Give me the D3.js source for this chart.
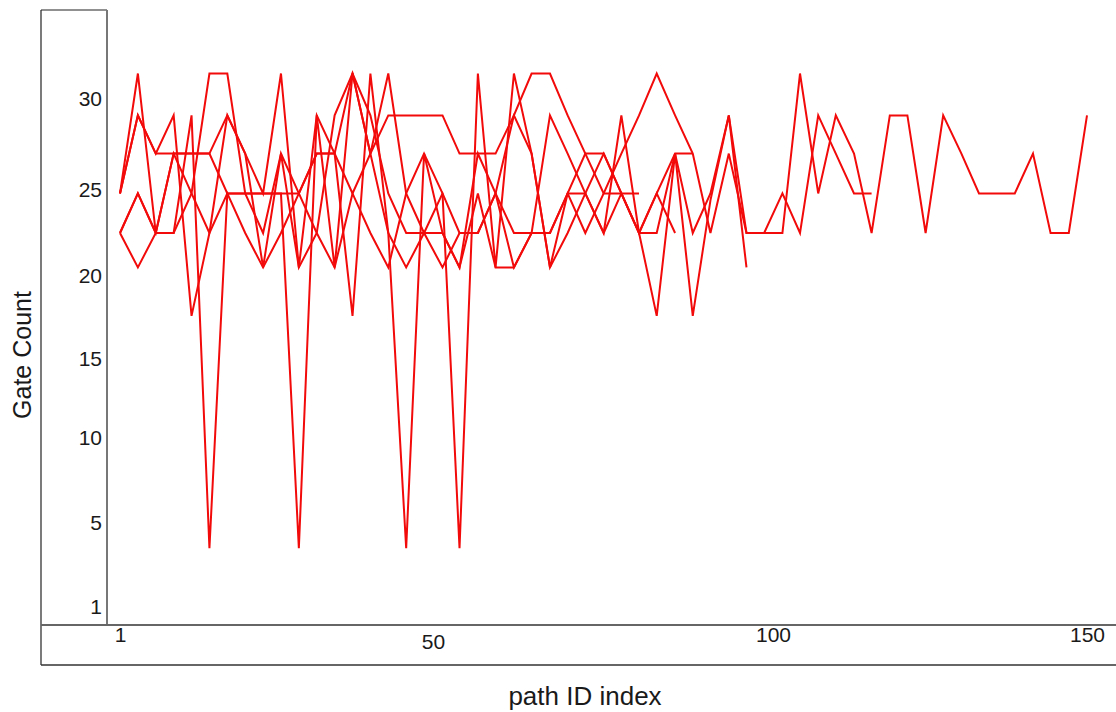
<!DOCTYPE html>
<html>
<head>
<meta charset="utf-8">
<script src="https://cdn.jsdelivr.net/npm/d3@7"></script>
<style>
  html, body { margin: 0; padding: 0; background: #fff; }
  svg { display: block; }
  text { font-family: "Liberation Sans", Arial, sans-serif; fill: #1a1a1a; }
</style>
</head>
<body>
<svg id="chart" width="1116" height="712"></svg>
<script>
// path ID positions shared by every run
const pathIds = [1, 3.8, 6.6, 9.4, 12.2, 15, 17.8, 20.6, 23.4, 26.2, 29, 31.8, 34.6, 37.4, 40.2, 43, 45.8, 48.6,
  51.4, 53.9, 56.6, 59.2, 61.9, 64.5, 67.2, 69.8, 72.4, 75.1, 77.7, 80.3, 82.9, 85.6, 88.2, 90.8, 93.5, 96.1,
  98.7, 101.5, 104.3, 107.2, 110, 112.9, 115.7, 118.6, 121.4, 124.3, 127.1, 130, 132.8, 135.7, 138.5, 141.4,
  144.2, 147.1, 150];

// gate counts per run (missing tail = path not present in that run)
const runA = [24.8, 31.4, 22.5, 22.5, 29.1, 3.8, 24.8, 24.8, 24.8, 24.8, 3.8, 29.1, 20.5, 31.4, 27, 31.4, 24.8, 22.5,
  24.8, 22.5, 22.5, 24.8, 22.5, 22.5, 22.5, 24.8, 22.5, 24.8, 27, 29.1, 31.4, 29.1, 27, 22.5, 27, 22.5, 22.5, 22.5,
  31.4, 24.8, 29.1, 27, 22.5, 29.1, 29.1, 22.5, 29.1, 27, 24.8, 24.8, 24.8, 27, 22.5, 22.5, 29.1];
const runB = [24.8, 29.1, 27, 27, 27, 27, 24.8, 24.8, 24.8, 24.8, 24.8, 27, 27, 17.6, 31.4, 22.5, 3.8, 27,
  22.5, 20.5, 27, 24.8, 20.5, 22.5, 29.1, 27, 24.8, 22.5, 29.1, 22.5, 17.6, 27, 17.6, 24.4, 29.1, 22.5, 22.5, 24.8,
  22.5, 29.1, 27, 24.8, 24.8];
const runC = [22.5, 24.8, 22.5, 22.5, 24.8, 31.4, 31.4, 24.8, 22.5, 27, 20.5, 22.5, 29.1, 31.4, 27, 29.1, 29.1,
  29.1, 29.1, 27, 27, 27, 29.1, 27, 20.5, 22.5, 24.8, 27, 24.8, 22.5, 22.5, 27, 22.5, 24.8, 29.1, 20.5];
const runD = [22.5, 20.5, 22.5, 27, 27, 27, 29.1, 27, 20.5, 27, 24.8, 22.5, 20.5, 24.8, 22.5, 20.5, 24.8, 27,
  24.8, 3.8, 31.4, 20.5, 31.4, 27, 20.5, 24.8, 27, 27, 24.8, 22.5, 24.8, 27, 27];
const runE = [24.8, 29.1, 27, 29.1, 17.6, 22.5, 29.1, 27, 24.8, 31.4, 20.5, 29.1, 27, 31.4, 29.1, 24.8, 22.5,
  22.5, 22.5, 20.5, 24.8, 20.5, 20.5, 22.5, 22.5, 24.8, 24.8, 22.5, 24.8, 22.5, 24.8, 22.5];
const runF = [22.5, 24.8, 22.5, 27, 24.8, 22.5, 24.8, 22.5, 20.5, 22.5, 24.8, 27, 27, 24.8, 27, 22.5, 20.5,
  22.5, 20.5, 22.5, 22.5, 24.8, 29.1, 31.4, 31.4, 29.1, 27, 24.8, 24.8, 24.8];
const runs = [runA, runB, runC, runD, runE, runF];

const yTicks = [1, 5, 10, 15, 20, 25, 30];
const xTicks = [1, 50, 100, 150];

const svg = d3.select("#chart");

// axis scales (the printed ticks are not evenly spaced in value)
const x = d3.scaleLinear().domain([1, 50, 100, 150]).range([120, 433, 773, 1087]);
const y = d3.scaleLinear().domain([1, 5, 10, 15, 20, 25, 30]).range([607, 523, 438, 359, 276, 190, 99]);

// frame: y-axis panel and x-axis panel
const frame = svg.append("g");
frame.append("line").attr("x1", 41).attr("y1", 10).attr("x2", 41).attr("y2", 665)
  .attr("stroke", "#222").attr("stroke-width", 1.2);
frame.append("line").attr("x1", 41).attr("y1", 10).attr("x2", 107).attr("y2", 10)
  .attr("stroke", "#222").attr("stroke-width", 1.2);
frame.append("line").attr("x1", 107).attr("y1", 10).attr("x2", 107).attr("y2", 625)
  .attr("stroke", "#777").attr("stroke-width", 2);
frame.append("line").attr("x1", 41).attr("y1", 625).attr("x2", 1116).attr("y2", 625)
  .attr("stroke", "#666").attr("stroke-width", 2);
frame.append("line").attr("x1", 41).attr("y1", 665).attr("x2", 1116).attr("y2", 665)
  .attr("stroke", "#333").attr("stroke-width", 1.6);

const font = '"Liberation Sans", Arial, sans-serif';

// y tick labels
const yAxis = d3.axisLeft(y).tickValues(yTicks).tickSize(0).tickPadding(0).tickFormat(d3.format("d"));
const gy = svg.append("g").attr("transform", "translate(102,0)").call(yAxis);
gy.select(".domain").remove();
gy.selectAll("text").style("font-size", "21px").style("font-family", font).attr("fill", "#1a1a1a");

// x tick labels
const xAxis = d3.axisBottom(x).tickValues(xTicks).tickSize(0).tickPadding(0).tickFormat(d3.format("d"));
const gx = svg.append("g").attr("transform", "translate(0,628)").call(xAxis);
gx.select(".domain").remove();
gx.selectAll("text").style("font-size", "21px").style("font-family", font).attr("fill", "#1a1a1a")
  .attr("dy", d => d === 50 ? "0.98em" : "0.68em");

// axis titles
svg.append("text").attr("transform", "translate(31,355) rotate(-90)")
  .attr("text-anchor", "middle").style("font-size", "25px").text("Gate Count");
svg.append("text").attr("x", 585).attr("y", 705)
  .attr("text-anchor", "middle").style("font-size", "26px").text("path ID index");

// one polyline per run
const line = d3.line()
  .defined(d => d != null)
  .x((d, i) => x(pathIds[i]))
  .y(d => y(d));

svg.append("g").selectAll("path").data(runs).join("path")
  .attr("d", line)
  .attr("fill", "none")
  .attr("stroke", "#f20a0a")
  .attr("stroke-width", 2)
  .attr("stroke-linejoin", "miter");
</script>
</body>
</html>
